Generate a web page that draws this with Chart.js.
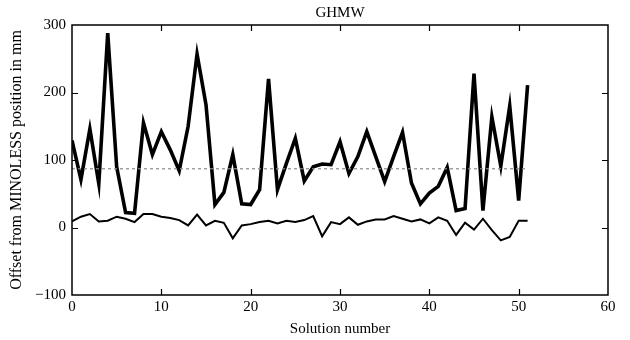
<!DOCTYPE html>
<html>
<head>
<meta charset="utf-8">
<script src="https://cdn.jsdelivr.net/npm/chart.js@4/dist/chart.umd.min.js"></script>
<style>
html,body{margin:0;padding:0;background:#fff;}
#wrap{width:630px;height:340px;}
</style>
</head>
<body>
<div id="wrap"><canvas id="c" width="630" height="340"></canvas></div>
<script>
const chartTitle = 'GHMW';
const solutionNumbers = [0,1,2,3,4,5,6,7,8,9,10,11,12,13,14,15,16,17,18,19,20,21,22,23,24,25,26,27,28,29,30,31,32,33,34,35,36,37,38,39,40,41,42,43,44,45,46,47,48,49,50,51];
const upperOffsets = [129,71,146,65,288,90,22,21,155,108,142,115,84,150,257,182,34,52,108,35,34,56,220,56,95,132,69,90,94,93,127,80,105,142,105,68,105,141,66,35,51,61,89,25,28,228,25,164,91,180,40,211];
const lowerOffsets = [9,16,20,9,10,16,13,8,20,20,16,14,11,3,19,3,10,7,-16,3,5,8,10,6,10,8,11,17,-13,8,5,15,4,9,12,12,17,13,9,12,6,15,10,-11,7,-3,13,-4,-19,-14,10,10];
const meanLevel = [87,87];
const meanRange = [0,51];
const xTicks = [0,10,20,30,40,50,60];
const yTicks = [-100,0,100,200,300];

const FONT = "'Liberation Serif','Times New Roman',serif";

const toPts = (xs, ys) => xs.map((x,i)=>({x:x, y:ys[i]}));

const frameTicks = {
  id:'frameTicks',
  afterDatasetsDraw(chart){
    const {ctx, chartArea:a, scales:{x,y}} = chart;
    ctx.save();
    ctx.strokeStyle = '#000';
    ctx.lineWidth = 1.5;
    ctx.strokeRect(a.left, a.top, a.right-a.left, a.bottom-a.top);
    ctx.lineWidth = 1.2;
    const L = 6;
    ctx.beginPath();
    xTicks.forEach(v=>{
      const px = Math.round(x.getPixelForValue(v))+0.5;
      if (v>xTicks[0] && v<xTicks[xTicks.length-1]) {
        ctx.moveTo(px, a.bottom); ctx.lineTo(px, a.bottom-L);
        ctx.moveTo(px, a.top); ctx.lineTo(px, a.top+L);
      }
    });
    yTicks.forEach(v=>{
      const py = Math.round(y.getPixelForValue(v))+0.5;
      if (v>yTicks[0] && v<yTicks[yTicks.length-1]) {
        ctx.moveTo(a.left, py); ctx.lineTo(a.left+L, py);
        ctx.moveTo(a.right, py); ctx.lineTo(a.right-L, py);
      }
    });
    ctx.stroke();
    // title centred over the plot area
    ctx.fillStyle = '#000';
    ctx.font = "15px " + FONT;
    ctx.textAlign = 'center';
    ctx.textBaseline = 'middle';
    ctx.fillText(chartTitle, (a.left+a.right)/2, 13);
    ctx.restore();
  }
};

new Chart(document.getElementById('c'), {
  type:'line',
  data:{
    datasets:[
      {label:'mean', data:toPts(meanRange, meanLevel), borderColor:'#8a8a8a', borderWidth:1.2, borderDash:[3,3], pointRadius:0, tension:0, fill:false},
      {label:'upper', data:toPts(solutionNumbers, upperOffsets), borderColor:'#000', borderWidth:3.6, pointRadius:0, tension:0, fill:false},
      {label:'lower', data:toPts(solutionNumbers, lowerOffsets), borderColor:'#000', borderWidth:2, pointRadius:0, tension:0, fill:false}
    ]
  },
  options:{
    responsive:false,
    animation:false,
    devicePixelRatio:1,
    layout:{padding:{left:0,right:22,top:25,bottom:0}},
    plugins:{
      legend:{display:false},
      tooltip:{enabled:false},
      title:{display:false}
    },
    scales:{
      x:{
        type:'linear', min:0, max:60,
        afterBuildTicks(s){ s.ticks = xTicks.map(v=>({value:v})); },
        afterFit(s){ s.height = 45; },
        grid:{display:false, drawTicks:false},
        border:{display:false},
        ticks:{color:'#000', font:{family:FONT,size:15}, padding:3, maxRotation:0},
        title:{display:true, text:'Solution number', color:'#000', font:{family:FONT,size:15}, padding:{top:0,bottom:2}}
      },
      y:{
        min:-100, max:300,
        afterBuildTicks(s){ s.ticks = yTicks.map(v=>({value:v})); },
        afterFit(s){ s.width = 72; },
        grid:{display:false, drawTicks:false},
        border:{display:false},
        ticks:{color:'#000', font:{family:FONT,size:15}, padding:6, callback:v=>String(v).replace('-','\u2212')},
        title:{display:true, text:'Offset from MINOLESS position in mm', color:'#000', font:{family:FONT,size:16}, padding:{top:7,bottom:0}}
      }
    }
  },
  plugins:[frameTicks]
});
</script>
</body>
</html>
